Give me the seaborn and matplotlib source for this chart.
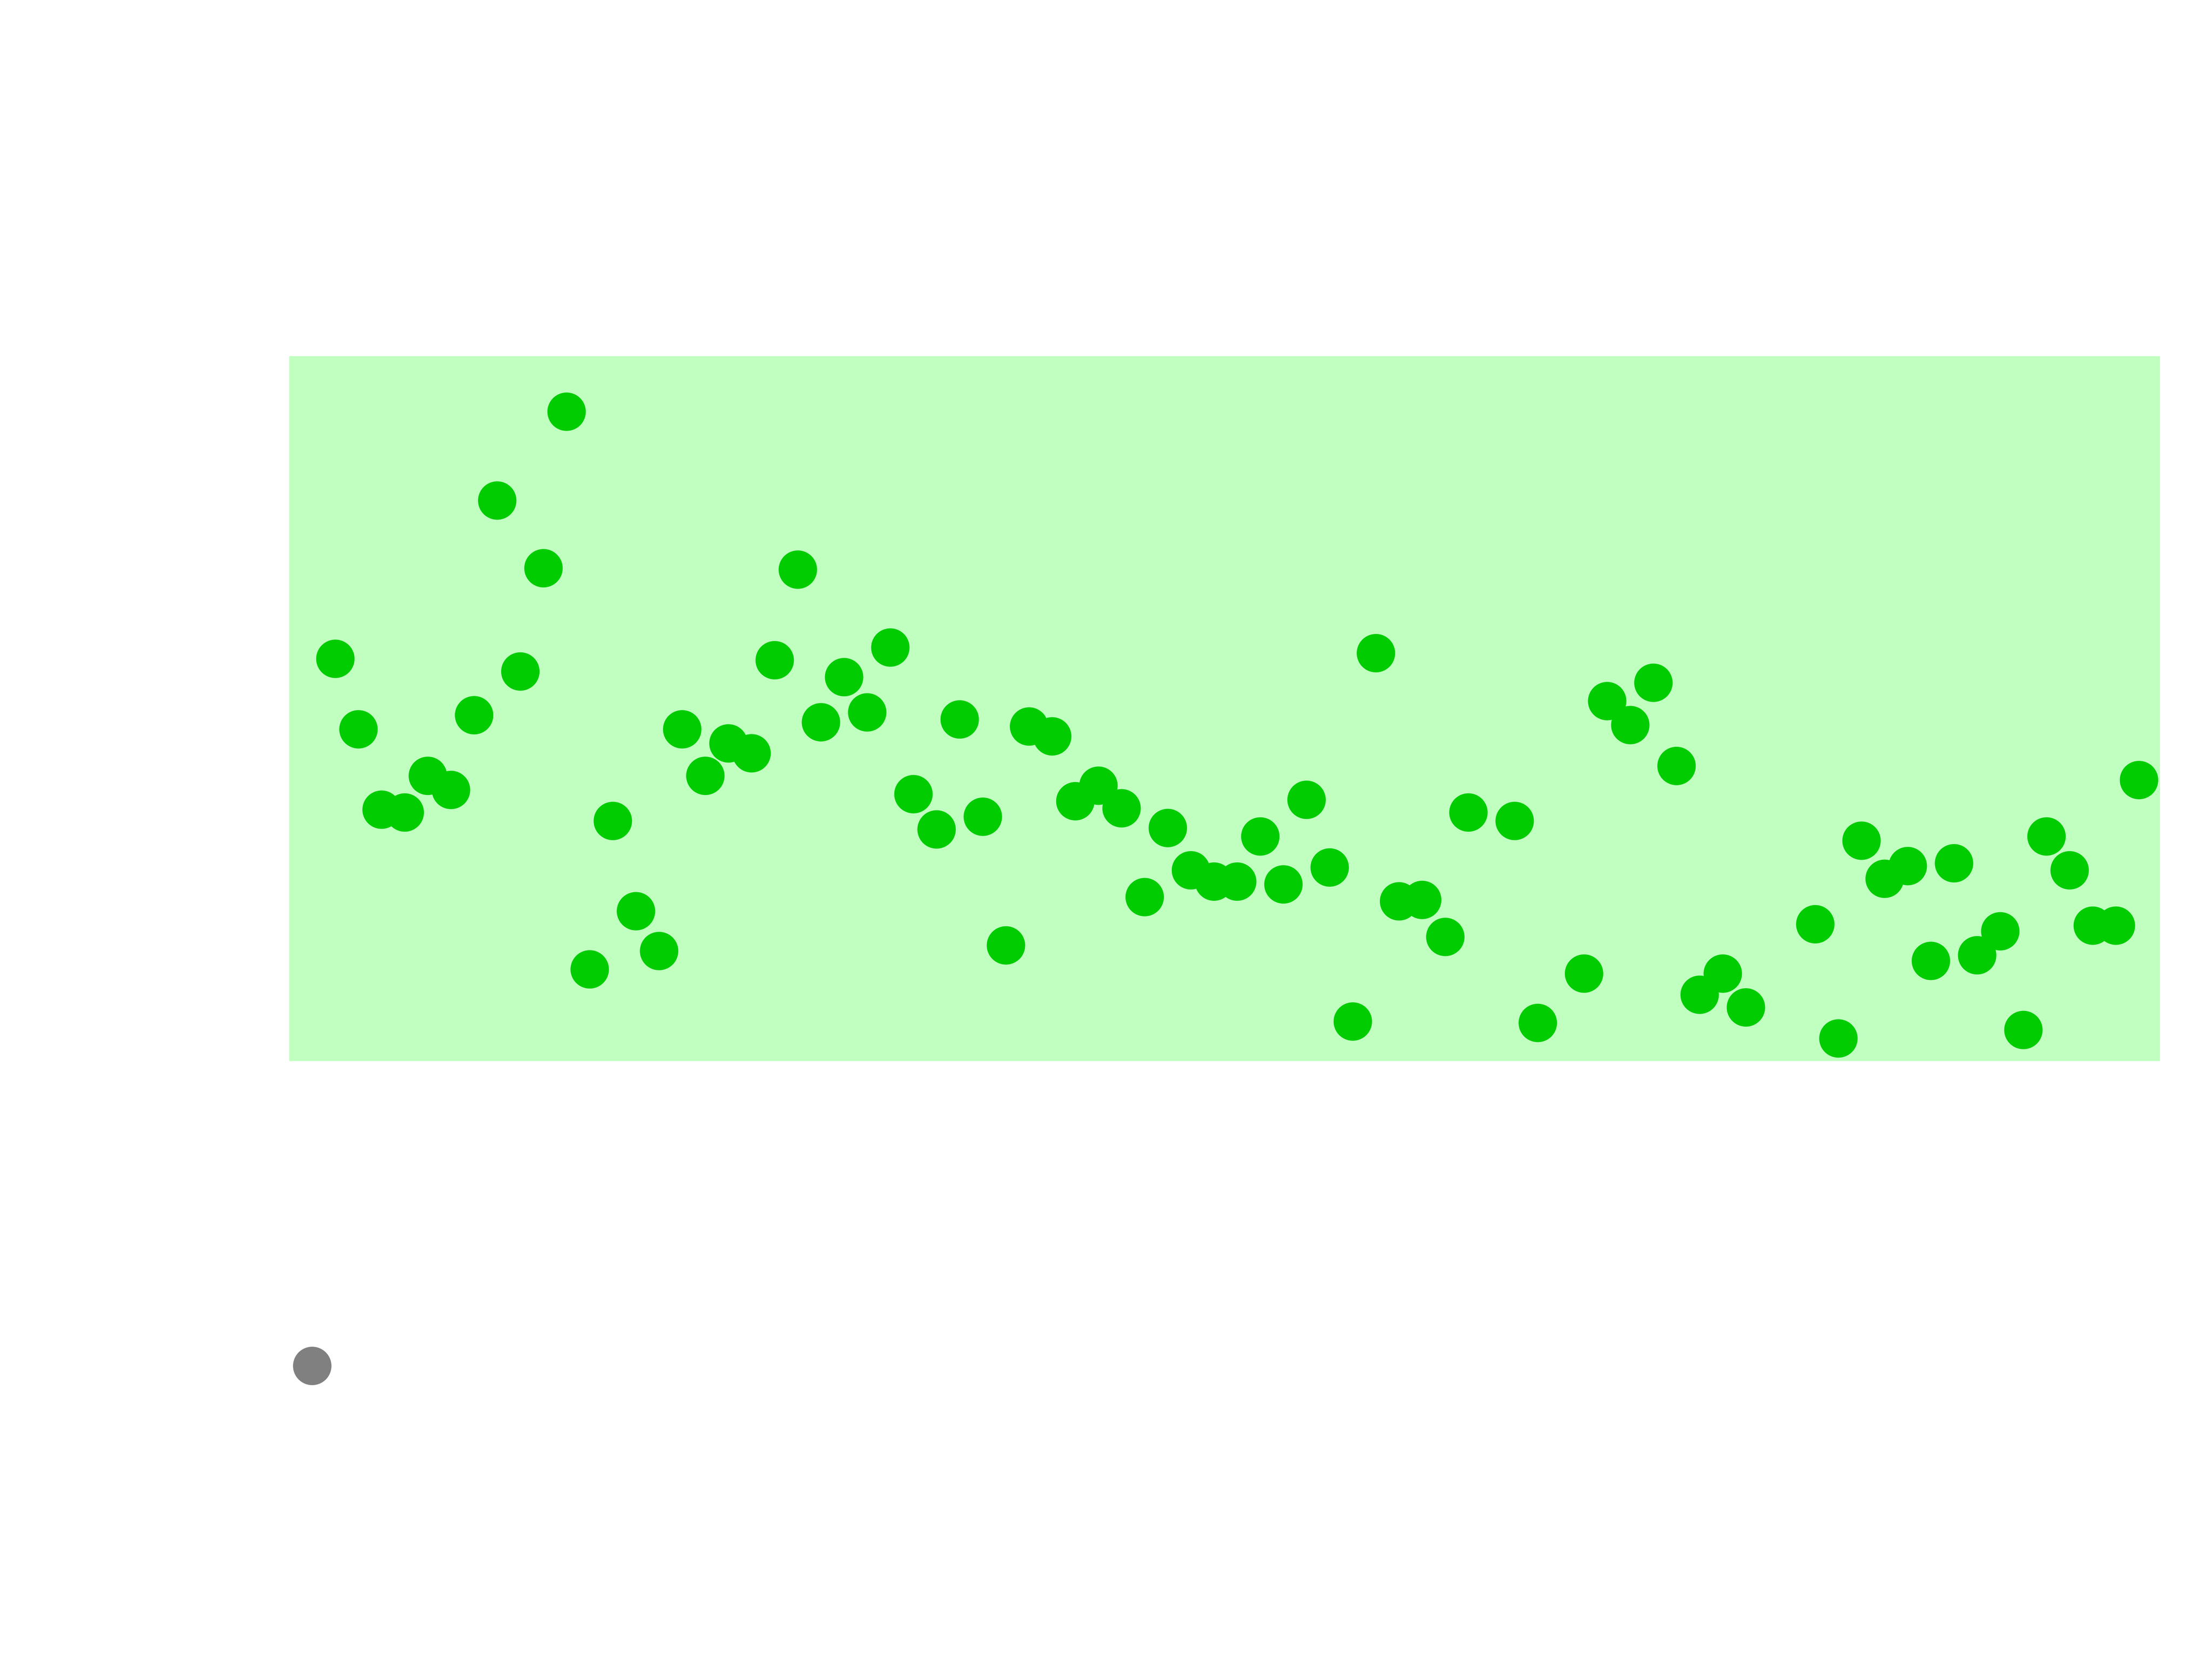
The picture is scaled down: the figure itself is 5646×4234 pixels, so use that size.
import seaborn as sns
import matplotlib.pyplot as plt
import pandas as pd
import numpy as np

# control limits and measurements (NaN = missing sample)
lower_limit = 40
upper_limit = 60
sample = np.arange(1, 81)
value = [31.35, 51.41, 49.41, 47.13, 47.05, 48.09, 47.69, 49.81, 55.90, 51.05,
         53.98, 58.42, 42.60, 46.81, 44.25, 43.12, 49.41, 48.09, 49.01, 48.73,
         51.37, 53.94, 49.61, 50.89, 49.89, 51.73, 47.57, 46.57, 49.69, 46.93,
         43.28, 49.49, 49.21, 47.37, 47.81, 47.17, 44.65, 46.61, 45.41, 45.09,
         45.09, 46.37, 45.01, 47.41, 45.49, 41.12, 51.57, 44.53, 44.57, 43.52,
         47.05, np.nan, 46.81, 41.08, np.nan, 42.48, 50.21, 49.53, 50.73, 48.37,
         41.88, 42.48, 41.52, np.nan, np.nan, 43.88, 40.64, 46.25, 45.17, 45.53,
         42.84, 45.61, 43.00, 43.68, 40.88, 46.37, 45.41, 43.84, 43.84, 47.97]

df = pd.DataFrame({"sample": sample, "value": value}).dropna()
df["status"] = np.where((df["value"] >= lower_limit) & (df["value"] <= upper_limit), "in", "out")

fig = plt.figure(figsize=(6.4, 4.8), dpi=882.2)
ax = fig.add_axes([0.1307, 0.3604, 0.8457, 0.4249])
ax.set_facecolor("#C0FFC0")
sns.scatterplot(data=df, x="sample", y="value", hue="status",
                palette={"in": "#00CC00", "out": "#808080"},
                s=64, linewidth=0, edgecolor="none", legend=False,
                clip_on=False, zorder=3, ax=ax)
ax.set_xlim(0, 80.9)
ax.set_ylim(lower_limit, upper_limit)
ax.set_xticks([])
ax.set_yticks([])
ax.set_xlabel("")
ax.set_ylabel("")
for s in ax.spines.values():
    s.set_visible(False)

plt.savefig("out.png", dpi=882.2)
